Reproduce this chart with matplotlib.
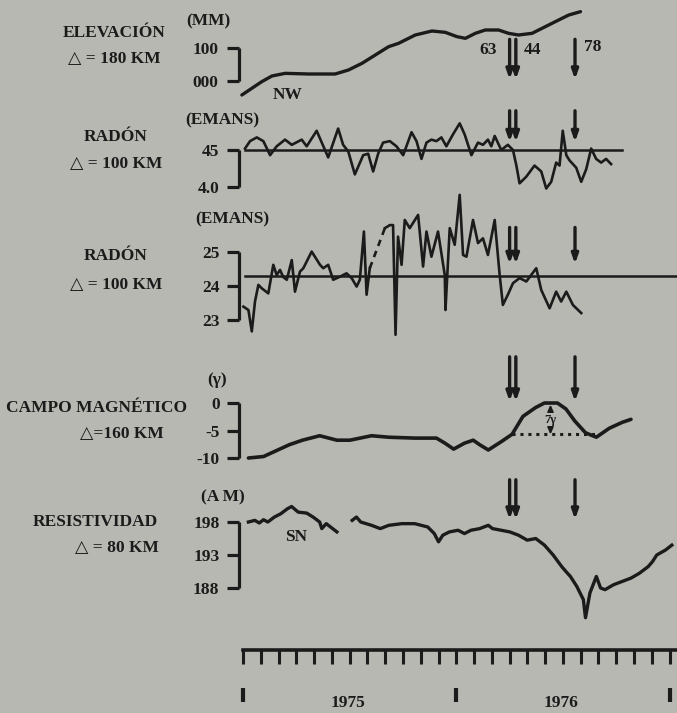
import matplotlib
matplotlib.use('Agg')
import matplotlib.pyplot as plt
import numpy as np

W, H = 677, 713
BG = '#b8b8b3'
INK = '#1b1b1b'
FONT = ['Liberation Serif', 'DejaVu Sans']

# ---------------- data (months since Jan 1975) ----------------
ruler_months = list(range(0, 25))
year_marks = [0, 12, 24]
year_label_pos = [5.9, 17.9]
year_labels = ['1975', '1976']

quake_months = [15.0, 15.35, 18.68]
quake_labels = ['63', '44', '78']

# Elevation (mm)
elev_m = [-0.07, 0.49, 1.05, 1.62, 2.37, 3.68, 5.18, 5.93, 6.69, 7.44, 8.19, 8.75, 9.69,
          10.63, 11.38, 12.04, 12.51, 13.07, 13.63, 14.38, 14.94, 15.5, 16.26, 17.01,
          17.76, 18.33, 18.99]
elev_v = [-42, -22, -2, 15, 23, 21, 21, 33, 53, 78, 103, 113, 138, 150, 146, 133, 128,
          143, 153, 153, 143, 138, 143, 163, 183, 198, 208]
elev_ticks = [0, 100]
elev_ticklabels = ['000', '100']

# Radon 1 (emans)
radon1_m = [0.11, 0.39, 0.77, 1.14, 1.52, 1.89, 2.36, 2.74, 3.30, 3.58, 4.14, 4.79, 5.35,
            5.63, 5.92, 6.29, 6.76, 7.04, 7.32, 7.60, 7.88, 8.26, 8.63, 9.01, 9.48, 9.76,
            10.04, 10.32, 10.60, 10.88, 11.16, 11.44, 11.81, 12.19, 12.47, 12.85, 13.22,
            13.5, 13.78, 13.97, 14.16, 14.53, 14.9, 15.19, 15.38, 15.56, 15.94, 16.4,
            16.78, 17.06, 17.34, 17.62, 17.81, 17.99, 18.19, 18.37, 18.75, 19.03, 19.31,
            19.59, 19.87, 20.15, 20.43, 20.71]
radon1_v = [4.52, 4.62, 4.67, 4.62, 4.43, 4.55, 4.64, 4.57, 4.64, 4.55, 4.76, 4.40, 4.79,
            4.57, 4.48, 4.17, 4.43, 4.45, 4.21, 4.45, 4.60, 4.62, 4.55, 4.43, 4.74, 4.62,
            4.38, 4.60, 4.64, 4.62, 4.67, 4.55, 4.71, 4.86, 4.71, 4.43, 4.60, 4.57, 4.64,
            4.55, 4.69, 4.50, 4.57, 4.50, 4.29, 4.05, 4.14, 4.29, 4.21, 3.98, 4.07, 4.33,
            4.29, 4.76, 4.43, 4.36, 4.26, 4.07, 4.24, 4.52, 4.38, 4.33, 4.38, 4.31]
radon1_ref = 4.5
radon1_ref_span = [0.11, 21.35]
radon1_ticks = [4.0, 4.5]
radon1_ticklabels = ['4.0', '45']

# Radon 2 (emans): two solid pieces with a dashed bridge
radon2a_m = [0.02, 0.30, 0.49, 0.67, 0.86, 1.05, 1.42, 1.70, 1.89, 2.08, 2.26, 2.46, 2.74,
             2.92, 3.2, 3.39, 3.86, 4.33, 4.51, 4.79, 5.07, 5.45, 5.82, 6.11, 6.39, 6.57,
             6.80, 6.95, 7.13]
radon2a_v = [23.39, 23.29, 22.66, 23.54, 24.03, 23.93, 23.78, 24.62, 24.32, 24.47, 24.26,
             24.18, 24.76, 23.83, 24.42, 24.52, 25.01, 24.62, 24.52, 24.62, 24.18, 24.27,
             24.37, 24.23, 23.98, 24.18, 25.60, 23.74, 24.52]
radon2b_m = [7.98, 8.26, 8.44, 8.58, 8.72, 8.92, 9.10, 9.38, 9.85, 10.13, 10.32, 10.60,
             10.97, 11.35, 11.39, 11.63, 11.91, 12.19, 12.38, 12.57, 12.94, 13.22, 13.5,
             13.78, 14.16, 14.44, 14.62, 14.9, 15.19, 15.56, 15.94, 16.5, 16.78, 17.25,
             17.62, 17.90, 18.19, 18.56, 19.03]
radon2b_v = [25.70, 25.79, 25.79, 22.56, 25.45, 24.62, 25.94, 25.70, 26.09, 24.57, 25.60,
             24.86, 25.60, 24.32, 23.29, 25.70, 25.21, 26.68, 24.91, 24.86, 25.94, 25.26,
             25.40, 24.91, 25.94, 24.32, 23.44, 23.74, 24.08, 24.23, 24.13, 24.52, 23.88,
             23.34, 23.83, 23.54, 23.83, 23.44, 23.20]
radon2_ref = 24.3
radon2_ref_span = [0.1, 24.42]
radon2_ticks = [23, 24, 25]
radon2_ticklabels = ['23', '24', '25']

# Magnetic field (gamma)
mag_m = [0.30, 1.15, 1.88, 2.61, 3.34, 4.31, 5.28, 6.01, 7.23, 8.2, 9.66, 10.88, 11.36,
         11.85, 12.46, 12.95, 13.31, 13.8, 14.53, 15.14, 15.75, 16.47, 16.96, 17.69, 18.17,
         18.66, 19.27, 19.88, 20.61, 21.34, 21.83]
mag_v = [-10.0, -9.73, -8.65, -7.57, -6.76, -5.95, -6.76, -6.76, -5.95, -6.22, -6.38,
         -6.38, -7.3, -8.38, -7.3, -6.76, -7.57, -8.54, -7.03, -5.68, -2.43, -0.81, 0.0,
         0.0, -1.08, -3.24, -5.41, -6.22, -4.59, -3.51, -2.97]
mag_base = -5.7
mag_base_span = [15.14, 19.88]
mag_anomaly_month = 17.3
mag_anomaly_top = -0.3
mag_anomaly_label = '7γ'
mag_ticks = [-10, -5, 0]
mag_ticklabels = ['-10', '-5', '0']

# Resistivity (ohm m)
res1_m = [0.30, 0.66, 0.91, 1.15, 1.39, 1.76, 2.12, 2.49, 2.73, 3.1, 3.58, 3.94, 4.31, 4.43,
          4.68, 4.92, 5.28]
res1_v = [198.0, 198.25, 197.85, 198.35, 198.0, 198.75, 199.25, 200.0, 200.35, 199.5, 199.35,
          198.75, 198.0, 197.0, 197.75, 197.25, 196.5]
res2_m = [6.14, 6.38, 6.62, 7.23, 7.72, 8.2, 8.93, 9.66, 10.39, 10.76, 11.0, 11.24, 11.61,
          12.1, 12.46, 12.82, 13.31, 13.8, 14.04, 14.53, 15.01, 15.5, 15.99, 16.47, 16.96,
          17.45, 17.93, 18.17, 18.42, 18.78, 19.15, 19.27, 19.52, 19.88, 20.12, 20.37,
          20.85, 21.34, 21.83, 22.31, 22.8, 23.04, 23.28, 23.77, 24.13]
res2_v = [198.25, 198.75, 198.0, 197.5, 197.0, 197.5, 197.75, 197.75, 197.25, 196.25, 195.0,
          196.0, 196.5, 196.75, 196.25, 196.75, 197.0, 197.5, 197.0, 196.75, 196.5, 196.0,
          195.25, 195.5, 194.5, 193.0, 191.25, 190.5, 189.75, 188.25, 186.25, 183.5, 187.25,
          189.75, 188.0, 187.75, 188.5, 189.0, 189.5, 190.25, 191.25, 192.0, 193.0, 193.75,
          194.5]
res_ticks = [188, 193, 198]
res_ticklabels = ['188', '193', '198']

# ---------------- layout ----------------
XMIN, XMAX = -0.23, 24.42
fig = plt.figure(figsize=(W / 100, H / 100), dpi=100, facecolor=BG)


def px_axes(y_top, y_bot, ylim, x_left=239, x_right=677):
    ax = fig.add_axes([x_left / W, 1 - y_bot / H, (x_right - x_left) / W, (y_bot - y_top) / H])
    ax.set_facecolor('none')
    ax.set_xlim(XMIN, XMAX)
    ax.set_ylim(*ylim)
    for s in ['top', 'right', 'bottom']:
        ax.spines[s].set_visible(False)
    ax.set_xticks([])
    return ax


def bracket(ax, ticks, labels, pad=5):
    ax.spines['left'].set_bounds(min(ticks), max(ticks))
    ax.spines['left'].set_linewidth(2.3)
    ax.spines['left'].set_color(INK)
    ax.spines['left'].set_capstyle('butt')
    ax.set_yticks(ticks)
    ax.set_yticklabels(labels, fontfamily=FONT, fontweight='bold', fontsize=12.5, color=INK)
    ax.tick_params(axis='y', direction='out', length=9, width=2.3, pad=pad, color=INK)


def quake_arrows(ax, top, bot):
    for m in quake_months:
        ax.annotate('', xy=(m, bot), xytext=(m, top),
                    arrowprops=dict(arrowstyle='-|>,head_length=0.45,head_width=0.16',
                                    lw=2.4, color=INK, mutation_scale=12,
                                    shrinkA=0, shrinkB=0))


def ftext(x, y, s, size=12.5, **kw):
    fig.text(x / W, 1 - y / H, s, ha='center', va='center', fontsize=size,
             fontfamily=FONT, fontweight='bold', color=INK, **kw)


# Panel 1: elevation
ax1 = px_axes(0, 105, (-72, 243))
ax1.plot(elev_m, elev_v, color=INK, lw=2.4, solid_capstyle='round')
bracket(ax1, elev_ticks, elev_ticklabels, pad=6)
quake_arrows(ax1, 125, 5)
ftext(114, 33, 'ELEVACIÓN')
ftext(114, 59, '△ = 180 KM')
ftext(208, 21, '(MM)')
ftext(288, 95, 'NW')
ftext(488, 50, quake_labels[0])
ftext(533, 50, quake_labels[1])
ftext(593, 47, quake_labels[2])

# Panel 2: radon
ax2 = px_axes(105, 195, (3.892, 5.108))
ax2.plot(radon1_ref_span, [radon1_ref, radon1_ref], color=INK, lw=1.8)
ax2.plot(radon1_m, radon1_v, color=INK, lw=1.9, solid_joinstyle='round')
bracket(ax2, radon1_ticks, radon1_ticklabels)
quake_arrows(ax2, 5.03, 4.61)
ftext(116, 137, 'RADÓN')
ftext(222, 120, '(EMANS)')
ftext(116, 164, '△ = 100 KM')

# Panel 3: radon
ax3 = px_axes(185, 345, (22.26, 26.97))
ax3.plot(radon2_ref_span, [radon2_ref, radon2_ref], color=INK, lw=1.8)
ax3.plot(radon2a_m, radon2a_v, color=INK, lw=1.9, solid_joinstyle='round')
ax3.plot(radon2b_m, radon2b_v, color=INK, lw=1.9, solid_joinstyle='round')
ax3.plot([radon2a_m[-1], radon2b_m[0]], [radon2a_v[-1], radon2b_v[0]], color=INK, lw=1.9,
         ls=(0, (2.5, 2)))
bracket(ax3, radon2_ticks, radon2_ticklabels)
quake_arrows(ax3, 25.72, 24.65)
ftext(232, 219, '(EMANS)')
ftext(116, 256, 'RADÓN')
ftext(116, 285, '△ = 100 KM')

# Panel 4: magnetic field
ax4 = px_axes(345, 470, (-12.18, 10.55))
ax4.plot(mag_m, mag_v, color=INK, lw=2.6, solid_joinstyle='round', solid_capstyle='round')
ax4.plot(mag_base_span, [mag_base, mag_base], color=INK, lw=2.2, ls=(0, (1, 1.6)))
ax4.annotate('', xy=(mag_anomaly_month, mag_anomaly_top),
             xytext=(mag_anomaly_month, mag_base),
             arrowprops=dict(arrowstyle='<|-|>,head_length=0.4,head_width=0.18', lw=1.2,
                             color=INK, mutation_scale=10, shrinkA=0, shrinkB=0))
ax4.text(mag_anomaly_month, (mag_base + mag_anomaly_top) / 2, mag_anomaly_label,
         ha='center', va='center', fontsize=9, fontfamily=FONT, fontweight='bold', color=INK,
         bbox=dict(facecolor=BG, edgecolor='none', pad=0.5))
bracket(ax4, mag_ticks, mag_ticklabels)
quake_arrows(ax4, 8.4, 0.3)
ftext(217, 380, '(γ)')
ftext(97, 408, 'CAMPO MAGNÉTICO')
ftext(122, 434, '△=160 KM')

# Panel 5: resistivity
ax5 = px_axes(470, 630, (181.64, 205.88))
ax5.plot(res1_m, res1_v, color=INK, lw=2.4, solid_joinstyle='round')
ax5.plot(res2_m, res2_v, color=INK, lw=2.4, solid_joinstyle='round')
bracket(ax5, res_ticks, res_ticklabels)
quake_arrows(ax5, 204.4, 198.4)
ftext(223, 497, '(A M)')
ftext(95, 522, 'RESISTIVIDAD')
ftext(117, 548, '△ = 80 KM')
ftext(296, 537, 'SN')

# Time ruler
axr = px_axes(650, 702, (0, 1))
axr.spines['left'].set_visible(False)
axr.spines['top'].set_visible(True)
axr.spines['top'].set_bounds(0, XMAX)
axr.spines['top'].set_linewidth(2.6)
axr.spines['top'].set_color(INK)
axr.set_yticks([])
axr.xaxis.set_ticks_position('both')
axr.set_xticks(ruler_months)
axr.tick_params(axis='x', which='major', top=True, bottom=False, direction='in', length=10,
                width=2.2, color=INK, labeltop=False, labelbottom=False)
for m in year_marks:
    axr.plot([m, m], [0.0, 0.27], color=INK, lw=3.0, solid_capstyle='butt')
for m, lab in zip(year_label_pos, year_labels):
    axr.text(m, -0.02, lab, ha='center', va='center', fontsize=12.5, fontfamily=FONT,
             fontweight='bold', color=INK, clip_on=False)

fig.savefig('out.png', dpi=100, facecolor=BG)
